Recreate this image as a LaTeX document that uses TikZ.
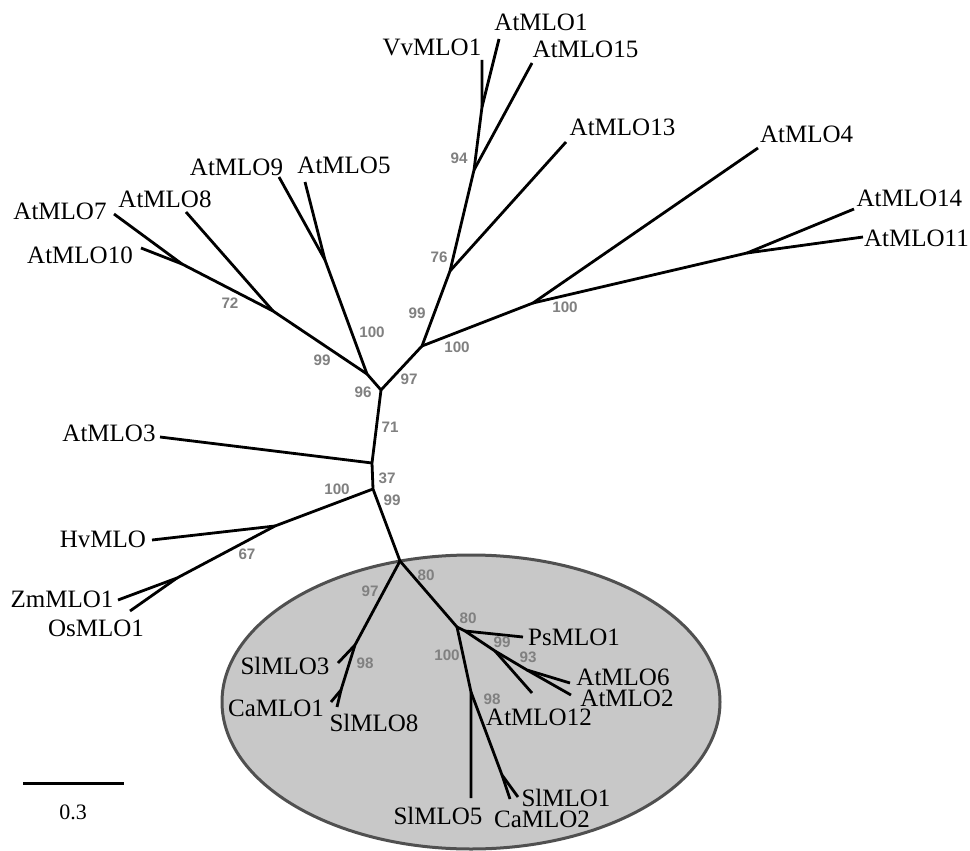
\documentclass[tikz,border=0pt]{standalone}
\usepackage{fontspec}
\usetikzlibrary{shapes.geometric}
\setmainfont{Liberation Serif}
\newfontfamily\bsfont{Liberation Sans}
\definecolor{bsgray}{RGB}{128,128,128}
\definecolor{cladefill}{RGB}{200,200,200}
\definecolor{cladeedge}{RGB}{80,80,80}
\begin{document}
\begin{tikzpicture}[x=1pt,y=-1pt,
  branch/.style={line width=2.8pt, line join=round},
  leaflab/.style={font=\fontsize{25}{29}\selectfont, inner sep=0pt, text depth=0pt},
  bs/.style={font=\bsfont\bfseries\fontsize{15.2}{17}\selectfont, text=bsgray, inner sep=0pt, text depth=0pt},
  clade/.style={fill=cladefill, draw=cladeedge, line width=3pt}]
\useasboundingbox (0,0) rectangle (970,851);
\fill[white] (0,0) rectangle (970,851);
% shaded clade
\node[clade, ellipse, minimum width=498pt, minimum height=294pt, inner sep=0pt] (cl) at (471,702) {};
% internal nodes
\coordinate (A) at (381,390);
\coordinate (Ap) at (367,374);
\coordinate (B) at (372,463);
\coordinate (C) at (373,489);
\coordinate (D) at (400,561);
\coordinate (E) at (275,526);
\coordinate (F) at (177,578);
\coordinate (G) at (325,260);
\coordinate (H) at (273,311);
\coordinate (I) at (182,264);
\coordinate (J) at (422,346);
\coordinate (K) at (450,271);
\coordinate (L) at (474,170);
\coordinate (M) at (482,107);
\coordinate (N) at (533,303);
\coordinate (O) at (747,253);
\coordinate (P) at (355,645);
\coordinate (Q) at (341,690);
\coordinate (R) at (457,627);
\coordinate (S) at (465,631);
\coordinate (T) at (495,651);
\coordinate (U) at (527,670);
\coordinate (V) at (471,692);
\coordinate (W) at (502,775);
% leaf ends
\coordinate (lAt3) at (160,437);
\coordinate (lHv) at (152,540);
\coordinate (lZm1) at (118,600);
\coordinate (lOs1) at (130,611);
\coordinate (lAt9) at (279,177);
\coordinate (lAt5) at (305,182);
\coordinate (lAt8) at (186,212);
\coordinate (lAt7) at (114,214);
\coordinate (lAt10) at (141,248);
\coordinate (lAt13) at (566,142);
\coordinate (lAt15) at (532,63);
\coordinate (lVv1) at (482,60);
\coordinate (lAt1) at (499,39);
\coordinate (lAt4) at (758,148);
\coordinate (lAt14) at (854,209);
\coordinate (lAt11) at (863,237);
\coordinate (lSl3) at (338,663);
\coordinate (lCa1) at (331,702);
\coordinate (lSl8) at (337,707);
\coordinate (lPs1) at (523,637);
\coordinate (lAt12) at (532,693);
\coordinate (lAt6) at (570,683);
\coordinate (lAt2) at (571,695);
\coordinate (lSl5) at (471,798);
\coordinate (lSl1) at (518,797);
\coordinate (lCa2) at (510,799);
% branches
\draw[branch] (Ap) -- (A) -- (B) -- (C) -- (D);
\draw[branch] (B) -- (lAt3);
\draw[branch] (C) -- (E) -- (F) -- (lZm1);
\draw[branch] (E) -- (lHv);
\draw[branch] (F) -- (lOs1);
\draw[branch] (Ap) -- (G) -- (lAt9);
\draw[branch] (G) -- (lAt5);
\draw[branch] (Ap) -- (H) -- (I) -- (lAt7);
\draw[branch] (H) -- (lAt8);
\draw[branch] (I) -- (lAt10);
\draw[branch] (A) -- (J) -- (K) -- (L) -- (M) -- (lVv1);
\draw[branch] (M) -- (lAt1);
\draw[branch] (L) -- (lAt15);
\draw[branch] (K) -- (lAt13);
\draw[branch] (J) -- (N) -- (lAt4);
\draw[branch] (N) -- (O) -- (lAt14);
\draw[branch] (O) -- (lAt11);
\draw[branch] (D) -- (P) -- (Q) -- (lCa1);
\draw[branch] (P) -- (lSl3);
\draw[branch] (Q) -- (lSl8);
\draw[branch] (D) -- (R) -- (S) -- (T) -- (U) -- (lAt6);
\draw[branch] (S) -- (lPs1);
\draw[branch] (T) -- (lAt12);
\draw[branch] (U) -- (lAt2);
\draw[branch] (R) -- (V) -- (lSl5);
\draw[branch] (V) -- (W) -- (lSl1);
\draw[branch] (W) -- (lCa2);
% leaf labels
\node[leaflab] (tAt1) at (541,22) {AtMLO1};
\node[leaflab] (tVv1) at (432,47) {VvMLO1};
\node[leaflab] (tAt15) at (585.5,49) {AtMLO15};
\node[leaflab] (tAt13) at (622.5,127) {AtMLO13};
\node[leaflab] (tAt4) at (806.7,134) {AtMLO4};
\node[leaflab] (tAt14) at (909.3,198) {AtMLO14};
\node[leaflab] (tAt11) at (916.5,238) {AtMLO11};
\node[leaflab] (tAt9) at (236.5,167) {AtMLO9};
\node[leaflab] (tAt5) at (344,165) {AtMLO5};
\node[leaflab] (tAt8) at (165,199) {AtMLO8};
\node[leaflab] (tAt7) at (60,211) {AtMLO7};
\node[leaflab] (tAt10) at (80,255) {AtMLO10};
\node[leaflab] (tAt3) at (109,433) {AtMLO3};
\node[leaflab] (tHv) at (103,539) {HvMLO};
\node[leaflab] (tZm1) at (62,599) {ZmMLO1};
\node[leaflab] (tOs1) at (96,628) {OsMLO1};
\node[leaflab] (tPs1) at (574,637) {PsMLO1};
\node[leaflab] (tAt6) at (623,677) {AtMLO6};
\node[leaflab] (tAt2) at (627,698) {AtMLO2};
\node[leaflab] (tAt12) at (539,717) {AtMLO12};
\node[leaflab] (tSl3) at (285,666) {SlMLO3};
\node[leaflab] (tCa1) at (276,708) {CaMLO1};
\node[leaflab] (tSl8) at (374,723) {SlMLO8};
\node[leaflab] (tSl5) at (438,816) {SlMLO5};
\node[leaflab] (tCa2) at (542,819) {CaMLO2};
\node[leaflab] (tSl1) at (566,798) {SlMLO1};
% bootstrap values
\node[bs] (b1) at (459,158) {94};
\node[bs] (b2) at (439,257) {76};
\node[bs] (b3) at (417,313) {99};
\node[bs] (b4) at (457,347) {100};
\node[bs] (b5) at (409,379) {97};
\node[bs] (b6) at (363,392) {96};
\node[bs] (b7) at (372,332) {100};
\node[bs] (b8) at (322,360) {99};
\node[bs] (b9) at (230,303) {72};
\node[bs] (b10) at (565,307) {100};
\node[bs] (b11) at (390,427) {71};
\node[bs] (b12) at (387,478) {37};
\node[bs] (b13) at (337,489) {100};
\node[bs] (b14) at (392,500) {99};
\node[bs] (b15) at (247,554) {67};
\node[bs] (b16) at (370,591) {97};
\node[bs] (b17) at (426,575) {80};
\node[bs] (b18) at (365,663) {98};
\node[bs] (b19) at (468,618) {80};
\node[bs] (b20) at (502,642) {99};
\node[bs] (b21) at (528,657) {93};
\node[bs] (b22) at (447,655) {100};
\node[bs] (b23) at (492,699) {98};
% scale bar
\coordinate (sb1) at (23,783);
\coordinate (sb2) at (124,783);
\draw[line width=3pt] (sb1) -- (sb2);
\node[leaflab, font=\fontsize{22}{26}\selectfont] (sbl) at (73,812) {0.3};
\end{tikzpicture}
\end{document}
